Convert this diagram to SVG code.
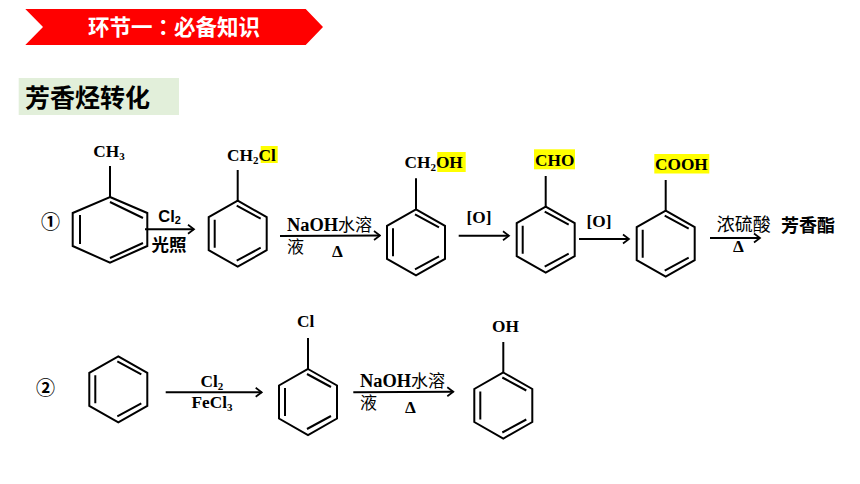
<svg xmlns="http://www.w3.org/2000/svg" width="860" height="484" viewBox="0 0 860 484">
<style>
.b{fill:none;stroke:#000;stroke-width:2;stroke-linejoin:miter;stroke-linecap:butt}
.a{fill:none;stroke:#000;stroke-width:2;marker-end:url(#h)}
text{fill:#000}
.s{font-family:"Liberation Serif","Noto Sans CJK SC",serif;font-weight:700;font-size:17.300px}
.n{font-size:18.400px}
.c{font-family:"Noto Sans CJK SC",sans-serif;font-size:17px;font-weight:400}
.m{font-family:"Noto Sans CJK SC",sans-serif;font-weight:700}
.t{font-family:"Noto Sans CJK TC",sans-serif;font-weight:700}
.y{fill:#ffff00}
</style>
<defs>
<marker id="h" markerUnits="userSpaceOnUse" markerWidth="10" markerHeight="12" refX="8.500" refY="6" orient="auto"><path d="M2.500 1.500L8.500 6L2.500 10.500" fill="none" stroke="#000" stroke-width="1.700"/></marker>
<g id="ring"><path class="b" d="M0-33L29-16.500V16.500L0 33L-29 16.500V-16.500Z"/><path class="b" d="M-1-28L23-15M-23-14V14M-1 27L23 14"/></g>
</defs>
<rect width="860" height="484" fill="#fff"/>
<g id="banner"><polygon points="25.300,9 305.700,9 323,27 305.700,45 25.300,45 43,27" fill="#ff0000"/><text class="t" x="88" y="35" font-size="21.500" style="fill:#fff">环节一：必备知识</text></g>
<g id="heading"><rect x="18.700" y="78" width="160.300" height="37" fill="#e2efda"/><text class="m" x="25" y="106.500" font-size="25">芳香烃转化</text></g>

<g id="toluene"><path class="b" d="M110 197L147.300 213V246L110 262.700L72.700 246V213Z"/><path class="b" d="M110 202L143 218M80 215V244M110 258L143 243M110 166V197"/><text class="s" x="93.300" y="156.500">CH<tspan font-size="11" dy="3">3</tspan></text></g>
<g id="benzyl-chloride"><rect class="y" x="260.700" y="146" width="17" height="17"/><use href="#ring" x="237.700" y="233.700"/><path class="b" d="M237.700 170V201"/><text class="s" x="227" y="160.500">CH<tspan font-size="11" dy="3">2</tspan><tspan dy="-3">Cl</tspan></text></g>
<g id="benzyl-alcohol"><rect class="y" x="437.300" y="152" width="28.400" height="20"/><use href="#ring" x="416" y="242.300"/><path class="b" d="M416 178.300V209.300"/><text class="s" x="404.500" y="168.300">CH<tspan font-size="11" dy="3">2</tspan><tspan dy="-3">OH</tspan></text></g>
<g id="benzaldehyde"><rect class="y" x="534" y="149.300" width="41" height="20"/><use href="#ring" x="545.700" y="239.700"/><path class="b" d="M545.700 176V206.700"/><text class="s" x="535" y="165.500">CHO</text></g>
<g id="benzoic-acid"><rect class="y" x="654.300" y="154" width="55" height="19.500"/><use href="#ring" x="665.700" y="243.700"/><path class="b" d="M665.700 180V210.700"/><text class="s" x="655" y="170">COOH</text></g>
<g id="ester"><text class="m" x="781" y="232" font-size="18">芳香酯</text></g>
<g id="benzene"><use href="#ring" x="118.300" y="389.300"/></g>
<g id="chlorobenzene"><use href="#ring" x="308" y="402"/><path class="b" d="M308 338V369"/><text class="s" x="297" y="327.300">Cl</text></g>
<g id="phenol"><use href="#ring" x="503.300" y="405.500"/><path class="b" d="M503.300 342V372.500"/><text class="s" x="492" y="331.700">OH</text></g>
<g id="label-1"><text class="m" x="50.500" y="229" text-anchor="middle" font-size="19">①</text></g>
<g id="label-2"><text class="m" x="45.500" y="395" text-anchor="middle" font-size="19">②</text></g>

<g id="connectors">
<path class="a" d="M145 229.300H194"/>
<path class="a" d="M280 236L380 235.500"/>
<path class="a" d="M458.700 235.700H509"/>
<path class="a" d="M579 239H629"/>
<path class="a" d="M710 238H760"/>
<path class="a" d="M165.700 392.300H261.700"/>
<path class="a" d="M353.300 392.300L453.300 391.700"/>
</g>
<g id="connector-labels">
<text x="158.300" y="222" font-family="'Liberation Sans',sans-serif" font-weight="700" font-size="16.500">Cl<tspan font-size="11" dy="2">2</tspan></text>
<text class="m" x="151.500" y="251" font-size="17.500">光照</text>
<text class="s n" x="287" y="230.700">NaOH<tspan class="c">水溶</tspan></text>
<text class="c" x="287" y="252.700">液</text>
<text class="s" x="332" y="256.700">Δ</text>
<text class="s" x="466.500" y="223.300">[O]</text>
<text class="s" x="586.500" y="227">[O]</text>
<text class="c" x="716.700" y="231" style="font-size:18px">浓硫酸</text>
<text class="s" x="733" y="251.700">Δ</text>
<text class="s" x="200.500" y="387.300">Cl<tspan font-size="11" dy="3">2</tspan></text>
<text class="s" x="191.500" y="408">FeCl<tspan font-size="11" dy="3">3</tspan></text>
<text class="s n" x="360" y="386.700">NaOH<tspan class="c">水溶</tspan></text>
<text class="c" x="360" y="409.300">液</text>
<text class="s" x="405" y="412.700">Δ</text>
</g>
</svg>
